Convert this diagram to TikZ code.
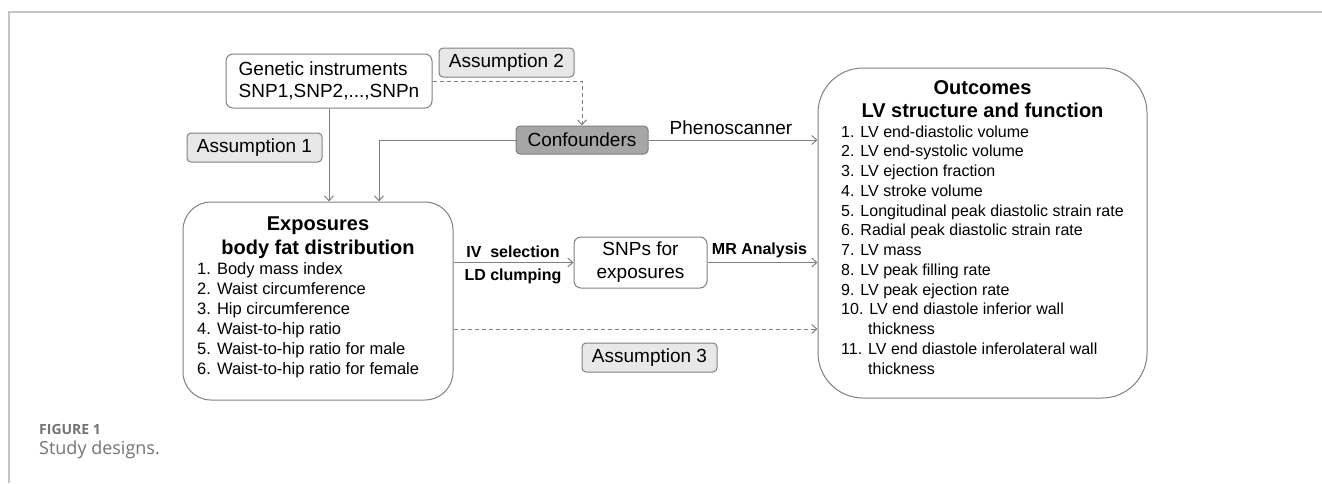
\documentclass[tikz,border=0pt]{standalone}
\usepackage{fontspec}
\setmainfont{Liberation Sans}
\newfontfamily\captionfont{Open Sans}
\usetikzlibrary{arrows.meta}
\definecolor{linegray}{HTML}{808080}
\definecolor{framegray}{HTML}{C4C4C4}
\definecolor{assumefill}{HTML}{E8E8E8}
\definecolor{conffill}{HTML}{A6A6A6}
\definecolor{capgray}{HTML}{737373}
\begin{document}
\begin{tikzpicture}[x=1pt,y=-1pt,
  every node/.style={inner sep=0pt, text=black},
  panel/.style={draw=linegray, line width=1pt, rounded corners=7pt, fill=white},
  bigtext/.style={font=\fontsize{19}{22}\selectfont},
  assume/.style={panel, fill=assumefill, rounded corners=4pt, minimum width=135pt, minimum height=29pt, bigtext},
  listitem/.style={anchor=base west, font=\fontsize{16}{20}\selectfont},
  boxtitle/.style={anchor=base, font=\bfseries\fontsize{20}{24}\selectfont},
  edgetext/.style={anchor=base, font=\bfseries\fontsize{16}{20}\selectfont},
  link/.style={draw=linegray, line width=1pt, -{Straight Barb[length=5pt,width=9pt]}},
  dlink/.style={link, dash pattern=on 4pt off 3pt}
]
\useasboundingbox (0,0) rectangle (1322,483);

% figure frame
\draw[framegray, line width=1.2pt] (9,483) -- (9,12) -- (1322,12);

% boxes
\node[panel, bigtext, align=left, minimum width=206pt, minimum height=54pt] (gen) at (329,81) {Genetic instruments\\SNP1,SNP2,...,SNPn};
\node[assume] (as2) at (506.5,62.5) {Assumption 2};
\node[panel, fill=conffill, rounded corners=4pt, minimum width=132pt, minimum height=28pt, bigtext] (conf) at (582,140) {Confounders};
\node[assume] (as1) at (254.5,147.5) {Assumption 1};
\node[panel, rounded corners=28pt, minimum width=270pt, minimum height=198pt] (exp) at (318,301) {};
\node[panel, align=center, minimum width=133pt, minimum height=51pt, font=\fontsize{19}{23}\selectfont] (snp) at (640.5,262.5) {SNPs for\\exposures};
\node[panel, rounded corners=45pt, minimum width=329pt, minimum height=330pt] (out) at (982.5,233) {};
\node[assume] (as3) at (649.5,357.5) {Assumption 3};

% exposures contents
\node[boxtitle] (expt1) at (318,230) {Exposures};
\node[boxtitle] (expt2) at (318,254) {body fat distribution};
\foreach \t [count=\i] in {1. Body mass index, 2. Waist circumference, 3. Hip circumference,
    4. Waist-to-hip ratio, 5. Waist-to-hip ratio for male, 6. Waist-to-hip ratio for female}
  \node[listitem, font=\fontsize{16.5}{20}\selectfont] (exp-\i) at (197,{274+20*(\i-1)}) {\t};

% outcomes contents
\node[boxtitle] (outt1) at (982.5,94) {Outcomes};
\node[boxtitle] (outt2) at (982.5,117) {LV structure and function};
\foreach \t [count=\i] in {1. LV end-diastolic volume, 2. LV end-systolic volume, 3. LV ejection fraction,
    4. LV stroke volume, 5. Longitudinal peak diastolic strain rate, 6. Radial peak diastolic strain rate,
    7. LV mass, 8. LV peak filling rate, 9. LV peak ejection rate, 10. LV end diastole inferior wall}
  \node[listitem] (out-\i) at (841,{137+19.75*(\i-1)}) {\t};
\node[listitem] (out-10b) at (868,{137+19.75*10}) {thickness};
\node[listitem] (out-11) at (841,{137+19.75*11}) {11. LV end diastole inferolateral wall};
\node[listitem] (out-11b) at (868,{137+19.75*12}) {thickness};

% connectors
\coordinate (cbend) at (379,140);
\coordinate (y3) at (0,329);
\draw[link] (gen.south) -- (gen.south |- exp.north);
\draw[link] (conf.west) -- (cbend) -- (cbend |- exp.north);
\draw[dlink] (gen.east) -| (conf.north);
\draw[link] (conf.east) -- (conf.east -| out.west);
\draw[link] (exp.east |- snp.west) -- (snp.west);
\draw[link] (snp.east) -- (snp.east -| out.west);
\draw[dlink] (exp.east |- y3) -- (out.west |- y3);

% connector labels
\node[anchor=base, bigtext] (pheno) at (731,134) {Phenoscanner};
\node[edgetext] (ivsel) at (513,257) {IV\ \ selection};
\node[edgetext] (ldclump) at (513,280) {LD clumping};
\node[edgetext] (mra) at (759.5,254) {MR Analysis};

% caption
\node[anchor=base west, font=\captionfont\bfseries\fontsize{14}{16}\selectfont, text=capgray] (figno) at (39,434) {FIGURE 1};
\node[anchor=base west, font=\captionfont\fontsize{18}{20}\selectfont, text=capgray] (figcap) at (39,454) {Study designs.};
\end{tikzpicture}
\end{document}
